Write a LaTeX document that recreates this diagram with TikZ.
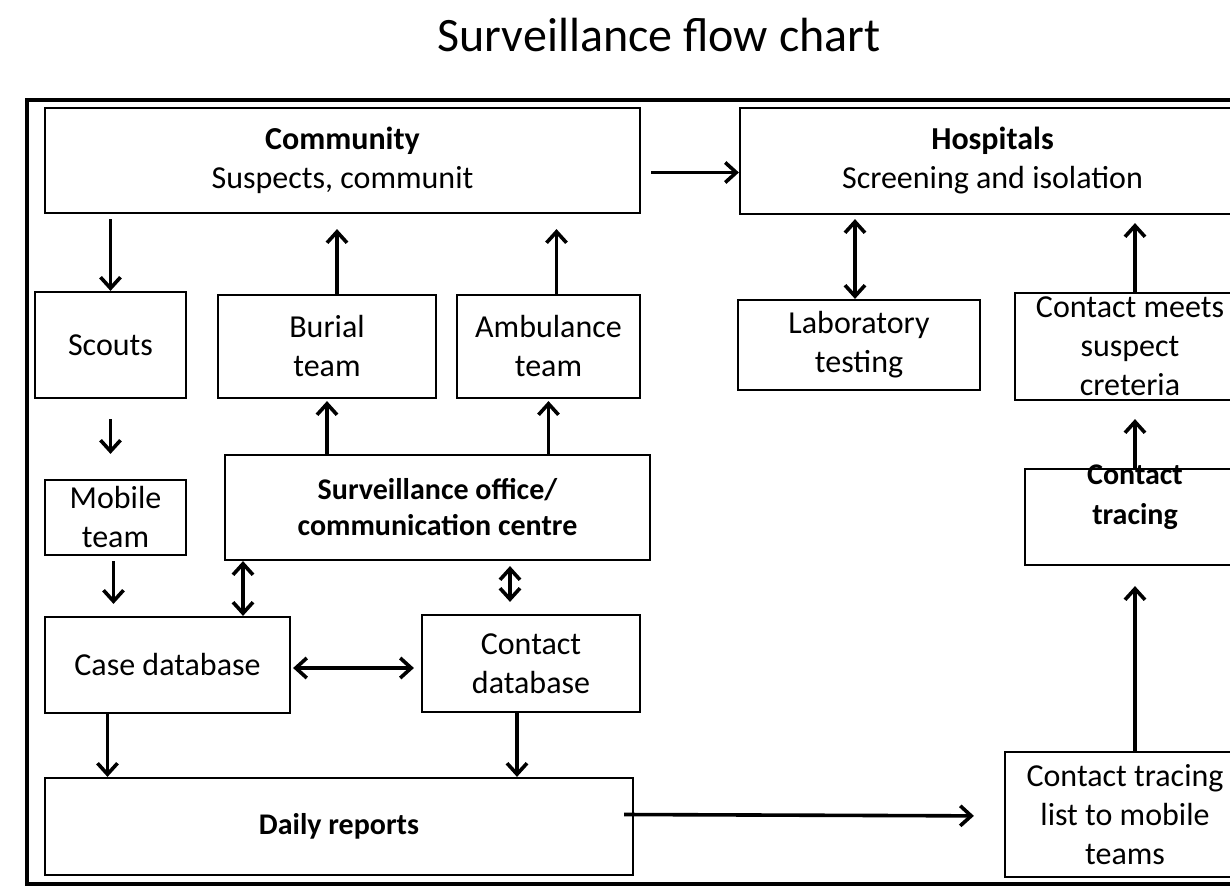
\documentclass[tikz,border=0pt]{standalone}
\usepackage{fontspec}
\setmainfont{Carlito}
\usetikzlibrary{arrows.meta}
\tikzset{
  box/.style={draw, line width=1.1pt, align=center, inner sep=0pt,
    font=\fontsize{16}{19.5}\selectfont},
  boldbox/.style={box, font=\fontsize{15}{18}\selectfont\bfseries},
  arr/.style={line width=1.8pt, -{Straight Barb[length=5.5pt,width=10pt,line width=1.8pt]}},
  darr/.style={line width=1.8pt, {Straight Barb[length=5.5pt,width=10pt,line width=1.8pt]}-{Straight Barb[length=5.5pt,width=10pt,line width=1.8pt]}}
}
\begin{document}
\begin{tikzpicture}[x=0.5pt, y=-0.5pt]
\useasboundingbox (0,0) rectangle (1230,887);
\clip (0,0) rectangle (1230,887);
\node (title) at (659,35) {\fontsize{24}{29}\selectfont Surveillance flow chart};
\draw[line width=2pt] (27,100) rectangle (1245,884);

% top row
\node[box, minimum width=297.5pt, minimum height=52.5pt] (comm) at (342.5,160.5)
  {\textbf{Community}\\Suspects, communit};
\node[box, minimum width=252.5pt, minimum height=53pt] (hosp) at (992.5,161)
  {\textbf{Hospitals}\\Screening and isolation};

% second row
\node[box, minimum width=75.5pt, minimum height=53pt] (scouts) at (110.5,345) {Scouts};
\node[box, minimum width=109pt, minimum height=51.5pt] (burial) at (327,346.5) {Burial\\team};
\node[box, minimum width=91.5pt, minimum height=51.5pt] (amb) at (548.5,346.5) {Ambulance\\team};
\node[box, minimum width=121pt, minimum height=45pt] (lab) at (859,345) {Laboratory\\testing};
\node[box, minimum width=115pt, minimum height=53.5pt] (meets) at (1130,346.5)
  {Contact meets\\suspect\\creteria};

% middle
\node[box, minimum width=70.5pt, minimum height=37.5pt] (mobile) at (115.5,517.5) {Mobile\\team};
\node[boldbox, minimum width=212.5pt, minimum height=52.5pt] (surv) at (437.5,507.5)
  {Surveillance office/\\communication centre};
\node[box, minimum width=110pt, minimum height=48pt] (tracing) at (1135,517) {};
\node[font=\fontsize{15}{20}\selectfont\bfseries, align=center, inner sep=0pt] (tracingtxt)
  at (1135,497) {Contact\\tracing};

% databases
\node[box, minimum width=122.5pt, minimum height=48pt] (case) at (167.5,665) {Case database};
\node[box, minimum width=109pt, minimum height=48.5pt] (cdb) at (531,663.5) {Contact\\database};

% bottom
\node[boldbox, minimum width=294pt, minimum height=48.5pt] (daily) at (339,826.5) {Daily reports};
\node[box, minimum width=120pt, minimum height=62.5pt] (list) at (1125,814.5)
  {Contact tracing\\list to mobile\\teams};

% connectors
\draw[arr] ([xshift=5pt,yshift=-6pt]comm.east) -- ([yshift=-6pt]comm.east -| hosp.west);
\draw[arr, shorten <=2.5pt] (comm.south -| scouts.north) -- (scouts.north);
\draw[arr, shorten >=7.5pt] ([xshift=5pt]burial.north) -- ([xshift=5pt]burial.north |- comm.south);
\draw[arr, shorten >=7.5pt] ([xshift=4pt]amb.north) -- ([xshift=4pt]amb.north |- comm.south);
\draw[darr, shorten >=2pt] ([xshift=-2pt]lab.north) -- ([xshift=-2pt]lab.north |- hosp.south);
\draw[arr, shorten >=4pt] ([xshift=2.5pt]meets.north) -- ([xshift=2.5pt]meets.north |- hosp.south);
\draw[arr, shorten <=10pt, shorten >=12.5pt] (scouts.south) -- (scouts.south |- mobile.north);
\draw[arr, shorten <=2.5pt, shorten >=6pt] ([xshift=-1pt]mobile.south) -- ([xshift=-1pt]mobile.south |- case.north);
\draw[arr, shorten >=1pt] (surv.north -| burial.south) -- (burial.south);
\draw[arr, shorten >=1pt] (surv.north -| amb.south) -- (amb.south);
\draw[darr] ([xshift=37.75pt]case.north |- surv.south) -- ([xshift=37.75pt]case.north);
\draw[darr, shorten <=2.5pt, shorten >=6pt] ([xshift=-10.5pt]cdb.north |- surv.south) -- ([xshift=-10.5pt]cdb.north);
\draw[darr, shorten <=1pt, shorten >=3.5pt] ([yshift=-1.5pt]case.east) -- ([yshift=-1.5pt]case.east -| cdb.west);
\draw[arr] ([xshift=-30pt]case.south) -- ([xshift=-30pt]case.south |- daily.north);
\draw[arr] ([xshift=-7pt]cdb.south) -- ([xshift=-7pt]cdb.south |- daily.north);
\draw[arr, shorten >=15pt] ([xshift=-5pt]daily.east |- list.west) -- ([yshift=-0.75pt]list.west);
\draw[arr, shorten >=9pt] (tracing.north) -- (tracing.north |- meets.south);
\draw[arr, shorten >=10pt] (list.north -| tracing.north) -- (tracing.south);
\end{tikzpicture}
\end{document}
